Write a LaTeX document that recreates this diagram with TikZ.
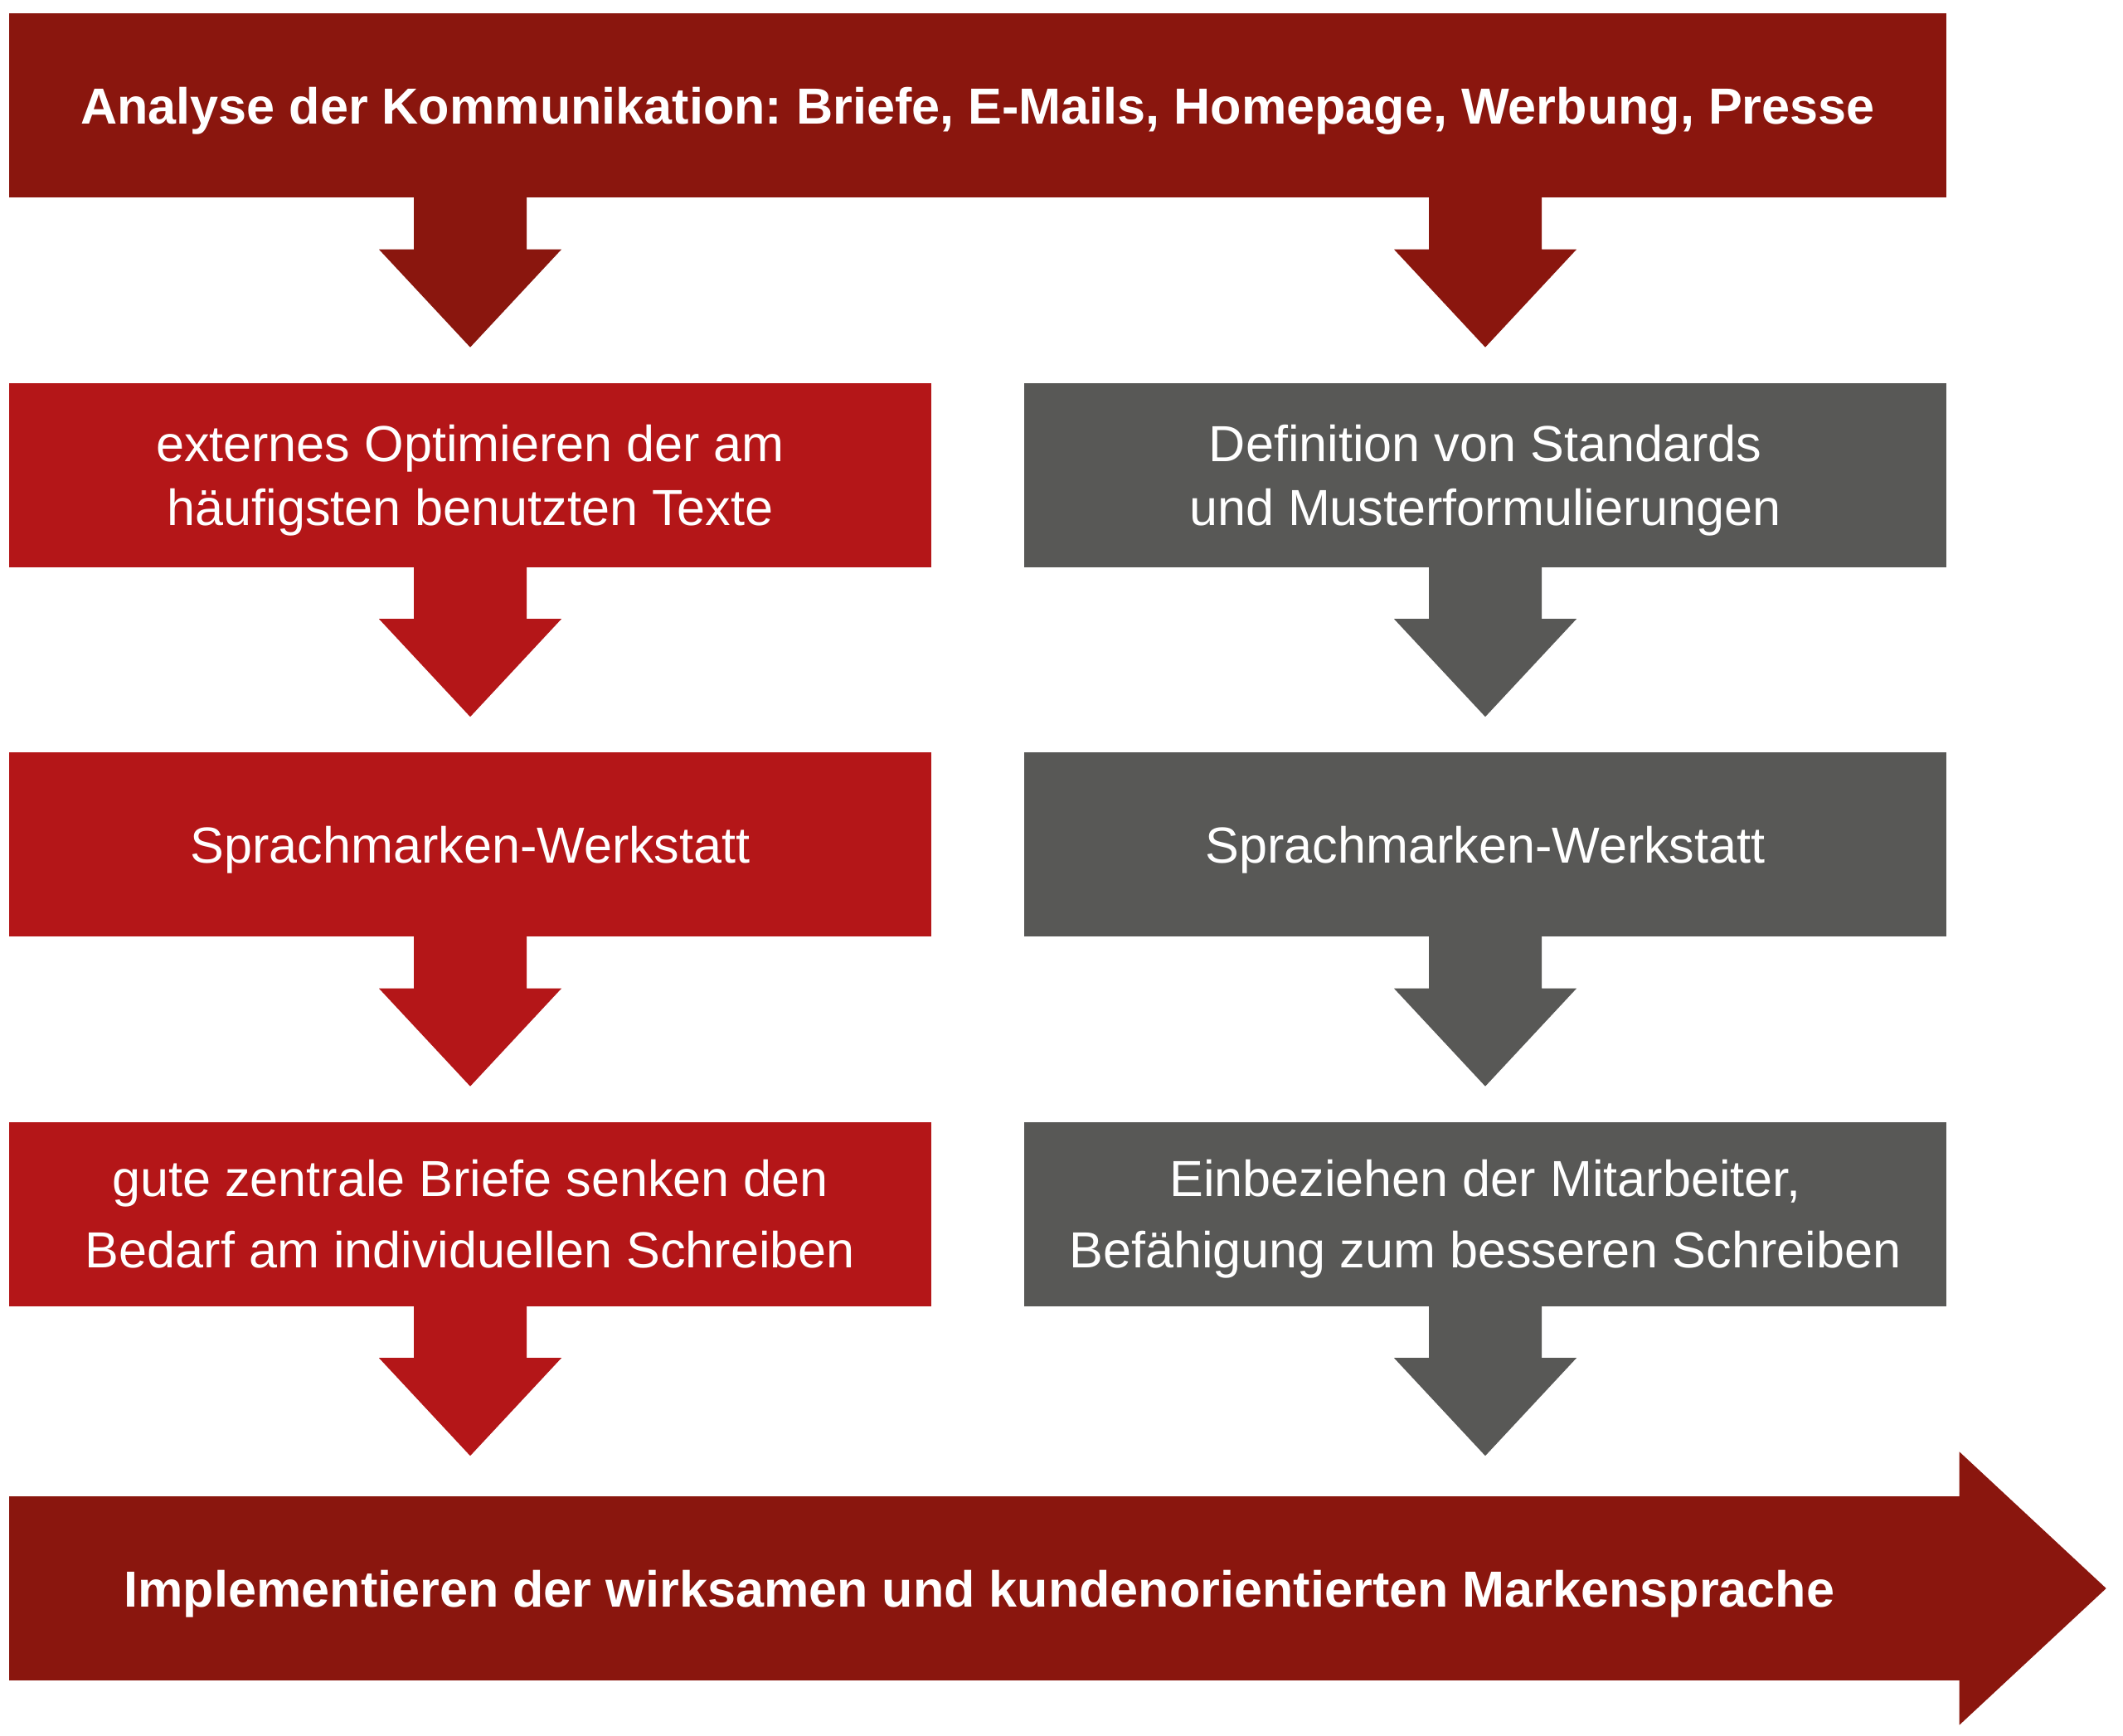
\documentclass[tikz,border=0pt]{standalone}
\usepackage{fontspec}
\setmainfont{Liberation Sans}
\usetikzlibrary{calc}
\definecolor{dunkelrot}{RGB}{138,22,14}
\definecolor{hellrot}{RGB}{180,22,24}
\definecolor{grau}{RGB}{88,88,86}
\newcommand{\blockpfeil}[2]{\fill[#2] (#1) ++(-0.68,0.01) -- ++(0,-0.63) -- ++(-0.42,0) -- ++(1.10,-1.18) -- ++(1.10,1.18) -- ++(-0.42,0) -- ++(0,0.63) -- cycle;}

\begin{document}
\frenchspacing
\begin{tikzpicture}[
  kasten/.style={rectangle,inner sep=0pt,minimum width=11.12cm,minimum height=2.22cm,text=white,text depth=0pt,align=center,font=\fontsize{17.4}{21.9}\selectfont},
  weit/.style={font=\fontsize{17.4}{24.4}\selectfont},
  fett/.style={font=\fontsize{17.4}{21.9}\selectfont\bfseries}]
\useasboundingbox (0,0) rectangle (25.6,-20.92);
\node[kasten,fett,fill=dunkelrot,minimum width=23.36cm] (ana) at (11.79,-1.27){Analyse der Kommunikation: Briefe, E-Mails, Homepage, Werbung, Presse};
\node[kasten,fill=hellrot] (l1) at (5.67,-5.725){externes Optimieren der am\\häufigsten benutzten Texte};
\node[kasten,fill=hellrot] (l2) at (5.67,-10.18){Sprachmarken-Werkstatt};
\node[kasten,weit,fill=hellrot] (l3) at (5.67,-14.635){gute zentrale Briefe senken den\\Bedarf am individuellen Schreiben};
\node[kasten,fill=grau] (r1) at (17.91,-5.725){Definition von Standards\\und Musterformulierungen};
\node[kasten,fill=grau] (r2) at (17.91,-10.18){Sprachmarken-Werkstatt};
\node[kasten,weit,fill=grau] (r3) at (17.91,-14.635){Einbeziehen der Mitarbeiter,\\Befähigung zum besseren Schreiben};
\node[kasten,fett,fill=dunkelrot,minimum width=23.52cm] (impl) at (11.87,-19.15){\hspace{-0.12cm}Implementieren der wirksamen und kundenorientierten Markensprache};
% Blockpfeile
\blockpfeil{ana.south -| l1.south}{dunkelrot}
\blockpfeil{ana.south -| r1.south}{dunkelrot}
\foreach \k/\f in {l1/hellrot,l2/hellrot,l3/hellrot,r1/grau,r2/grau,r3/grau}
  \blockpfeil{\k.south}{\f};
\fill[dunkelrot] ($(impl.north east)+(-0.01,0.53)$) -- ($(impl.east)+(1.76,0)$) -- ($(impl.south east)+(-0.01,-0.53)$) -- cycle;
\end{tikzpicture}
\end{document}
